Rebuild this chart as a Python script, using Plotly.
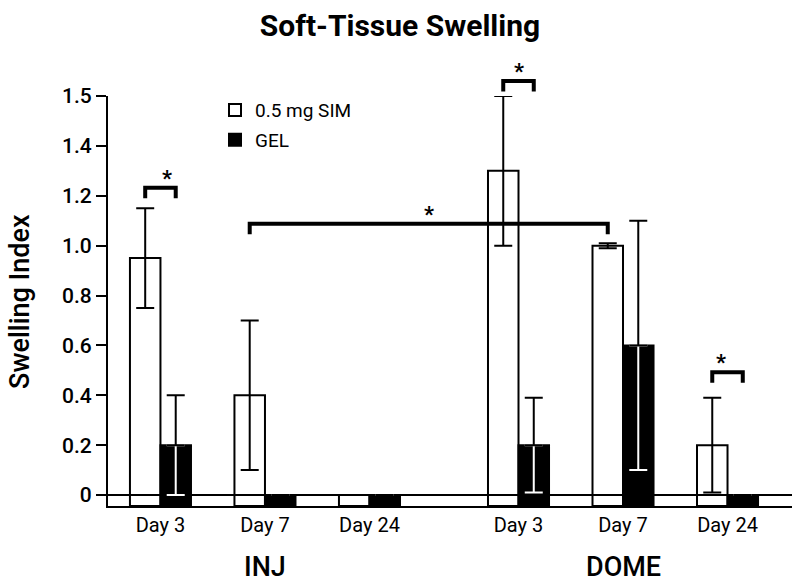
import plotly.graph_objects as go

# ---- data ----
GROUPS = ["INJ", "DOME"]
DAYS = ["Day 3", "Day 7", "Day 24"]
SIM_VALUES = [0.95, 0.40, 0.00, 1.30, 1.00, 0.20]
SIM_ERRORS = [0.20, 0.30, 0.00, 0.30, 0.01, 0.19]
GEL_VALUES = [0.20, 0.00, 0.00, 0.20, 0.60, 0.00]
GEL_ERRORS = [0.20, 0.00, 0.00, 0.19, 0.50, 0.00]
Y_TICK_VALS = [0, 0.2, 0.4, 0.6, 0.8, 1.0, 1.2, 1.4, 1.6]
Y_TICK_TEXT = ["0", "0.2", "0.4", "0.6", "0.8", "1.0", "1.2", "1.4", "1.5"]
# significance brackets: (left bar index, left series, right bar index, right series, bracket height)
SIG_BRACKETS = [
    (0, "SIM", 0, "GEL", 1.232),
    (1, "SIM", 4, "SIM", 1.088),
    (3, "SIM", 3, "GEL", 1.660),
    (5, "SIM", 5, "GEL", 0.492),
]

# ---- layout constants ----
GROUP_GAP = 1.426
POS = [g * (len(DAYS) + GROUP_GAP - 1) + d for g in range(len(GROUPS)) for d in range(len(DAYS))]
LABELS = [d for g in GROUPS for d in DAYS]
Y_MIN, Y_MAX = -0.044, 1.6
X_MIN, X_MAX = -0.502, 6.043
BARGAP = 0.416
BAR_W = (1 - BARGAP) / 2
FONT = "Roboto, Liberation Sans, sans-serif"

def px(x):
    return (x - X_MIN) / (X_MAX - X_MIN)

def py(y):
    return (y - Y_MIN) / (Y_MAX - Y_MIN)

GEL_X = [p + BAR_W / 2 for p in POS]

fig = go.Figure()

fig.add_trace(go.Bar(
    name="0.5 mg SIM", x=POS, y=[v - Y_MIN for v in SIM_VALUES], base=Y_MIN,
    legendgroup="sim",
    marker=dict(color="rgba(255,255,255,0)", line=dict(color="black", width=2)),
    error_y=dict(type="data", array=SIM_ERRORS, visible=True, color="black", thickness=2, width=9),
))
fig.add_trace(go.Bar(
    name="GEL", x=POS, y=[v - Y_MIN for v in GEL_VALUES], base=Y_MIN,
    legendgroup="gel",
    marker=dict(color="black", line=dict(color="black", width=2)),
))
# GEL error bars: white lower half inside the bar, black upper half
fig.add_trace(go.Scatter(
    x=GEL_X, y=GEL_VALUES, mode="markers", showlegend=False, hoverinfo="skip",
    marker=dict(size=1, color="rgba(0,0,0,0)"),
    error_y=dict(type="data", symmetric=False,
                 array=[0 if e else None for e in GEL_ERRORS],
                 arrayminus=[e if e else None for e in GEL_ERRORS],
                 color="white", thickness=2, width=9),
))
fig.add_trace(go.Scatter(
    x=GEL_X, y=GEL_VALUES, mode="markers", showlegend=False, hoverinfo="skip",
    marker=dict(size=1, color="rgba(0,0,0,0)"),
    error_y=dict(type="data", symmetric=False,
                 array=[e if e else None for e in GEL_ERRORS],
                 arrayminus=[0 if e else None for e in GEL_ERRORS],
                 color="black", thickness=2, width=9),
))

shapes = []
annotations = []
for li, ls, ri, rs, h in SIG_BRACKETS:
    xl = POS[li] + (-BAR_W / 2 if ls == "SIM" else BAR_W / 2)
    xr = POS[ri] + (-BAR_W / 2 if rs == "SIM" else BAR_W / 2)
    leg = h - 0.042
    shapes.append(dict(
        type="path", xref="paper", yref="paper",
        path=f"M{px(xl)},{py(leg)} L{px(xl)},{py(h)} L{px(xr)},{py(h)} L{px(xr)},{py(leg)}",
        line=dict(color="black", width=4),
    ))
    annotations.append(dict(
        x=px((xl + xr) / 2), y=py(h), xref="paper", yref="paper",
        text="<b>*</b>", showarrow=False, yanchor="bottom", yshift=-5,
        font=dict(size=22, color="black", family=FONT),
    ))

for gi, g in enumerate(GROUPS):
    annotations.append(dict(
        x=POS[gi * len(DAYS) + 1], y=-0.148, xref="x", yref="paper",
        text=g, showarrow=False, yanchor="middle", borderpad=0,
        font=dict(size=27, color="black", family=FONT, weight=500),
    ))

annotations.append(dict(
    x=-0.1287, y=0.5, xref="paper", yref="paper", text="Swelling Index",
    textangle=-90, showarrow=False, xanchor="center", yanchor="middle",
    font=dict(size=27, color="black", family=FONT, weight=500),
))

fig.update_layout(
    width=800, height=586,
    margin=dict(l=108, r=8, t=96, b=80, autoexpand=False),
    paper_bgcolor="white", plot_bgcolor="white",
    barmode="group", bargap=BARGAP, bargroupgap=0,
    title=dict(text="Soft-Tissue Swelling", x=0.5, xref="container", xanchor="center",
               y=1 - 25 / 586, yref="container", yanchor="middle",
               font=dict(size=30, color="black", family=FONT, weight=700)),
    font=dict(family=FONT, color="black"),
    legend=dict(x=(215 - 108) / 684, y=1.012, xanchor="left", yanchor="top",
                bgcolor="rgba(0,0,0,0)", font=dict(size=19, color="black", family=FONT),
                tracegroupgap=2, itemclick=False),
    shapes=shapes, annotations=annotations,
    showlegend=True,
)
fig.update_xaxes(
    range=[X_MIN, X_MAX], tickvals=POS, ticktext=LABELS, showgrid=False,
    showline=True, linecolor="black", linewidth=2, zeroline=False, automargin=False,
    ticks="", tickfont=dict(size=20, color="black", family=FONT),
)
fig.update_yaxes(
    range=[Y_MIN, Y_MAX], tickvals=Y_TICK_VALS, ticktext=Y_TICK_TEXT, showgrid=False,
    showline=True, linecolor="black", linewidth=2, automargin=False,
    zeroline=True, zerolinecolor="black", zerolinewidth=2,
    ticks="outside", ticklen=10, tickwidth=2, tickcolor="black",
    tickfont=dict(size=21, color="black", family=FONT, weight=500),
)

fig.write_html("out.html", config={"displayModeBar": False},
               post_script="document.body.style.margin='0';")
